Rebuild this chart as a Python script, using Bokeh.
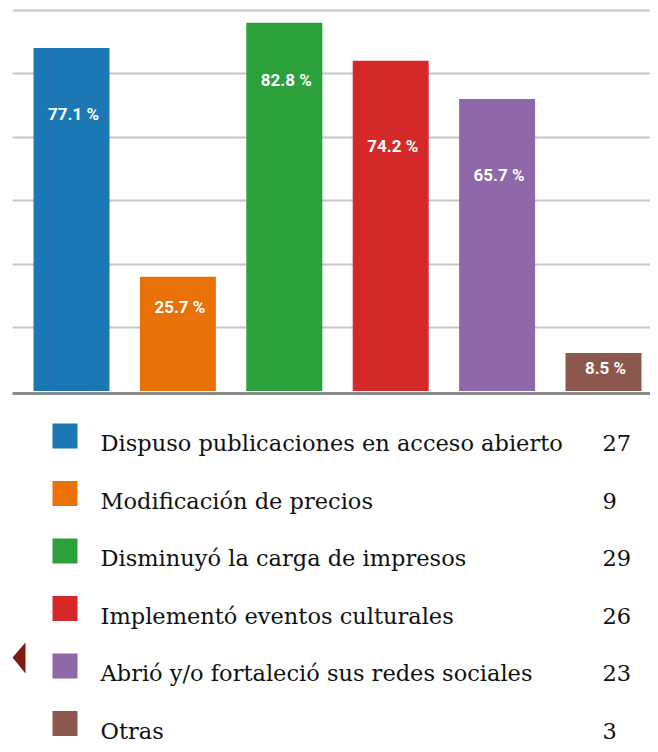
from bokeh.plotting import figure
from bokeh.models import Range1d, FixedTicker, Grid, PolyAnnotation
from bokeh.layouts import column
from bokeh.core.properties import value
from bokeh.embed import file_html
from bokeh.resources import INLINE

# ---- data ----
categories = [
    "Dispuso publicaciones en acceso abierto",
    "Modificación de precios",
    "Disminuyó la carga de impresos",
    "Implementó eventos culturales",
    "Abrió y/o fortaleció sus redes sociales",
    "Otras",
]
counts = [27, 9, 29, 26, 23, 3]
percents = [77.1, 25.7, 82.8, 74.2, 65.7, 8.5]
grid_ticks = [5, 10, 15, 20, 25, 30]

# ---- styling / layout ----
colors = ["#1b78b5", "#ea7108", "#2ca03a", "#d52829", "#8e68a8", "#8c574c"]
label_y = [21.8, 6.6, 24.5, 19.3, 17.0, 1.8]  # vertical anchor of the % labels
W = 650
LEFT = 12
idx = list(range(len(categories)))
pct_labels = [f"{v} %" for v in percents]

p = figure(
    width=W, height=413, output_backend="svg", toolbar_location=None,
    x_range=Range1d(-0.5545, 5.4417), y_range=Range1d(-0.197, 30.75),
    min_border_left=LEFT, min_border_right=0, min_border_top=0, min_border_bottom=20,
    y_axis_location=None, title=None,
)
p.outline_line_color = None
p.background_fill_color = "white"
p.border_fill_color = "white"
p.grid.grid_line_color = None
p.add_layout(Grid(dimension=1, ticker=FixedTicker(ticks=grid_ticks),
                  grid_line_color="#c6c6c6", grid_line_width=2))

p.xaxis.axis_line_color = "#8a8a8a"
p.xaxis.axis_line_width = 3
p.xaxis.major_tick_line_color = None
p.xaxis.minor_tick_line_color = None
p.xaxis.major_label_text_font_size = "0px"
p.xaxis.ticker = FixedTicker(ticks=[])

p.vbar(x=idx, top=counts, bottom=0, width=0.714, fill_color=colors, line_color=None)
p.text(x=idx, y=label_y, text=pct_labels, text_color="white",
       text_font=value("Roboto"), text_font_style="bold", text_font_size="17px",
       text_align="center", text_baseline="middle", x_offset=2)

# ---- legend panel ----
LH = 331
q = figure(
    width=W, height=LH, output_backend="svg", toolbar_location=None,
    x_range=Range1d(LEFT, W), y_range=Range1d(LH, 0),
    min_border=0, min_border_left=LEFT, x_axis_location=None, y_axis_location=None,
    title=None,
)
q.outline_line_color = None
q.grid.grid_line_color = None
q.background_fill_color = "white"
q.border_fill_color = "white"

row_y = [22.5 + 57.5 * i for i in idx]
q.rect(x=64.5, y=row_y, width=25, height=25, width_units="screen",
       height_units="screen", fill_color=colors, line_color=None)
q.text(x=100, y=row_y, text=categories, text_color="#111111",
       text_font=value("DejaVu Serif"), text_font_size="22.5px",
       text_baseline="alphabetic", y_offset=7)
q.text(x=602, y=row_y, text=[str(c) for c in counts], text_color="#111111",
       text_font=value("DejaVu Serif"), text_font_size="22.5px",
       text_baseline="alphabetic", y_offset=7)
# decorative page marker
q.add_layout(PolyAnnotation(xs=[12, 25, 25], ys=[244, 229, 260],
                            xs_units="canvas", ys_units="canvas",
                            fill_color="#7d1b13", fill_alpha=1.0,
                            line_color=None))

layout = column(p, q, spacing=0)
open("out.html", "w").write(file_html(layout, INLINE))
